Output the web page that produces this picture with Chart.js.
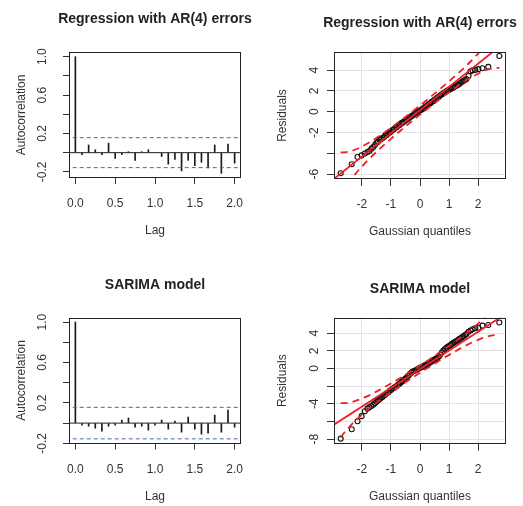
<!DOCTYPE html>
<html>
<head>
<meta charset="utf-8">
<title>Residual diagnostics</title>
<script src="https://cdn.jsdelivr.net/npm/chart.js@4.4.1/dist/chart.umd.min.js"></script>
<style>
  html, body { margin: 0; padding: 0; background: #fff; }
  #wrap { position: relative; width: 523px; height: 506px; }
  #wrap canvas { position: absolute; }
</style>
</head>
<body>
<div id="wrap">
  <canvas id="acfReg" width="262" height="253" style="left:0;top:0"></canvas>
  <canvas id="qqReg" width="261" height="253" style="left:262px;top:0"></canvas>
  <canvas id="acfSar" width="262" height="253" style="left:0;top:253px"></canvas>
  <canvas id="qqSar" width="261" height="253" style="left:262px;top:253px"></canvas>
</div>
<script>
// ---- data ----
const lagMonths = [0, 1, 2, 3, 4, 5, 6, 7, 8, 9, 10, 11, 12, 13, 14, 15, 16, 17, 18, 19, 20, 21, 22, 23, 24];
const acfRegression = [1.00, -0.02, 0.08, 0.03, -0.02, 0.10, -0.06, -0.02, 0.01, -0.08, 0.01, 0.03, 0.00,
  -0.04, -0.12, -0.07, -0.19, -0.08, -0.135, -0.10, -0.16, 0.08, -0.215, 0.09, -0.11];
const acfSarima = [1.00, -0.02, -0.03, -0.05, -0.08, -0.03, -0.02, 0.03, 0.05, -0.04, -0.03, -0.07, -0.02,
  0.03, -0.06, 0.02, -0.09, 0.06, -0.06, -0.11, -0.10, 0.08, -0.09, 0.13, -0.04];
const acfBound = 0.156; // 95% band

// Gaussian quantiles (same n for both models)
const gaussQ = [-2.73, -2.35, -2.15, -2.01, -1.90, -1.81, -1.74, -1.67, -1.61, -1.55,
  -1.50, -1.45, -1.40, -1.35, -1.30, -1.25, -1.20, -1.15, -1.10, -1.05,
  -1.00, -0.95, -0.90, -0.85, -0.80, -0.75, -0.70, -0.65, -0.60, -0.55,
  -0.50, -0.45, -0.40, -0.35, -0.30, -0.25, -0.20, -0.15, -0.10, -0.05,
  0.00, 0.05, 0.10, 0.15, 0.20, 0.25, 0.30, 0.35, 0.40, 0.45,
  0.50, 0.55, 0.60, 0.65, 0.70, 0.75, 0.80, 0.85, 0.90, 0.95,
  1.00, 1.05, 1.10, 1.15, 1.20, 1.25, 1.30, 1.35, 1.40, 1.45,
  1.50, 1.55, 1.60,
  1.67, 1.74, 1.81, 1.90, 2.01, 2.15, 2.35, 2.73];
const residRegression = [-5.92, -5.05, -4.35, -4.20, -4.02, -3.88, -3.78, -3.55, -3.40, -3.20,
  -2.98, -2.90, -2.70, -2.66, -2.52, -2.47, -2.30, -2.25, -2.10, -2.02,
  -1.92, -1.76, -1.70, -1.55, -1.48, -1.33, -1.28, -1.12, -1.05, -0.95,
  -0.82, -0.76, -0.62, -0.55, -0.44, -0.36, -0.22, -0.16, -0.02, 0.02,
  0.12, 0.20, 0.30, 0.38, 0.52, 0.60, 0.74, 0.80, 0.95, 1.02,
  1.15, 1.22, 1.36, 1.45, 1.58, 1.66, 1.78, 1.85, 1.96, 2.04,
  2.12, 2.18, 2.27, 2.33, 2.42, 2.50, 2.58, 2.66, 2.78, 2.88,
  2.98, 3.06, 3.15,
  3.45, 3.90, 3.98, 4.03, 4.10, 4.18, 4.32, 5.37];
const residSarima = [-7.95, -6.88, -5.98, -5.40, -4.85, -4.55, -4.38, -4.25, -4.10, -3.95,
  -3.78, -3.62, -3.52, -3.35, -3.25, -3.08, -2.98, -2.80, -2.72, -2.55,
  -2.45, -2.30, -2.22, -2.08, -1.98, -1.82, -1.72, -1.55, -1.45, -1.28,
  -1.15, -1.00, -0.82, -0.62, -0.48, -0.35, -0.28, -0.20, -0.12, 0.00,
  0.08, 0.15, 0.22, 0.32, 0.40, 0.50, 0.58, 0.68, 0.80, 0.92,
  1.02, 1.12, 1.22, 1.35, 1.58, 1.80, 2.00, 2.18, 2.32, 2.45,
  2.55, 2.66, 2.78, 2.90, 3.00, 3.10, 3.20, 3.32, 3.42, 3.55,
  3.65, 3.78, 3.90,
  4.15, 4.30, 4.45, 4.56, 4.62, 4.85, 4.93, 5.20];

// reference lines (solid red) and pointwise envelope (dashed red)
const fitQ = [-2.98, 2.98];
const fitRegression = [-6.50, 6.82];
const fitSarima = [-6.40, 6.24];
const envQ = [-2.73, -2.6, -2.4, -2.2, -2.0, -1.75, -1.5, -1.0, -0.5, 0, 0.5, 1.0, 1.5, 1.75, 2.0, 2.2, 2.4, 2.6, 2.73];
const envRegUpper = [-3.90, -3.90, -3.80, -3.61, -3.34, -2.96, -2.52, -1.55, -0.50, 0.60, 1.74, 2.93, 4.18, 4.86, 5.60, 6.23, 6.92, 7.72, 8.30];
const envRegLower = [-7.98, -7.40, -6.60, -5.91, -5.28, -4.54, -3.86, -2.61, -1.42, -0.28, 0.82, 1.87, 2.84, 3.28, 3.66, 3.93, 4.12, 4.22, 4.22];
const envSarUpper = [-3.93, -3.93, -3.84, -3.65, -3.40, -3.04, -2.62, -1.70, -0.71, 0.33, 1.41, 2.54, 3.74, 4.38, 5.08, 5.67, 6.34, 7.09, 7.65];
const envSarLower = [-7.81, -7.25, -6.50, -5.83, -5.24, -4.54, -3.90, -2.70, -1.57, -0.49, 0.55, 1.54, 2.46, 2.88, 3.24, 3.49, 3.68, 3.77, 3.77];

// ticks
const lagTicks = [0, 0.5, 1, 1.5, 2];
const acfTicks = [-0.2, 0, 0.2, 0.4, 0.6, 0.8, 1.0];
const acfLabels = [-0.2, 0.2, 0.6, 1.0];
const qTicks = [-2, -1, 0, 1, 2];
const regTicks = [-6, -4, -2, 0, 2, 4];
const regLabels = [-6, -2, 0, 2, 4];
const sarTicks = [-8, -6, -4, -2, 0, 2, 4];
const sarLabels = [-8, -4, 0, 2, 4];

const FONT = '"Liberation Sans", Arial, Helvetica, sans-serif';
const pts = (xs, ys) => xs.map((x, i) => ({ x: x, y: ys[i] }));

// box, titles and rotated R-style labels
function rFrame(o) {
  return {
    id: 'rFrame',
    afterDraw(chart) {
      const { ctx, chartArea: a, scales } = chart;
      const cx = (a.left + a.right) / 2;
      const cy = (a.top + a.bottom) / 2;
      ctx.save();
      ctx.strokeStyle = '#222';
      ctx.lineWidth = 1;
      ctx.strokeRect(Math.round(a.left) + 0.5, Math.round(a.top) + 0.5,
        Math.round(a.right - a.left) - 1, Math.round(a.bottom - a.top) - 1);

      ctx.textBaseline = 'alphabetic';
      ctx.textAlign = 'center';
      ctx.fillStyle = '#222';
      ctx.font = 'bold 14px ' + FONT;
      ctx.fillText(o.title, cx, a.top - o.titleGap);

      ctx.fillStyle = '#333';
      ctx.font = '12px ' + FONT;
      o.xLabels.forEach(v => {
        ctx.fillText(v.toFixed(o.xDec), scales.x.getPixelForValue(v), a.bottom + 29);
      });
      ctx.fillText(o.xTitle, cx, a.bottom + 56);

      o.yLabels.forEach(v => {
        ctx.save();
        ctx.translate(a.left - o.yLabGap, scales.y.getPixelForValue(v));
        ctx.rotate(-Math.PI / 2);
        ctx.fillText(v.toFixed(o.yDec), 0, 0);
        ctx.restore();
      });
      ctx.translate(a.left - o.yTitleGap, cy);
      ctx.rotate(-Math.PI / 2);
      ctx.fillText(o.yTitle, 0, 0);
      ctx.restore();
    }
  };
}

function axis(min, max, ticks, inner, tickLen) {
  return {
    type: 'linear',
    min: min,
    max: max,
    offset: false,
    afterBuildTicks: s => { s.ticks = ticks.map(v => ({ value: v })); },
    afterFit: s => { if (s.isHorizontal()) s.height = 0; else s.width = 0; },
    ticks: { display: false },
    border: { display: false },
    grid: { offset: false, drawOnChartArea: inner, color: '#e2e2e2', tickColor: '#333', tickLength: tickLen, lineWidth: 1 }
  };
}

function acfChart(id, values, yMin, yMax, pad, title) {
  const lags = lagMonths.map(m => m / 12);
  new Chart(document.getElementById(id), {
    type: 'bar',
    data: {
      datasets: [
        { type: 'line', data: [{ x: -1, y: acfBound }, { x: 3, y: acfBound }], borderColor: '#4462d2', borderWidth: 1, borderDash: [4, 3], pointRadius: 0 },
        { type: 'line', data: [{ x: -1, y: -acfBound }, { x: 3, y: -acfBound }], borderColor: '#4462d2', borderWidth: 1, borderDash: [4, 3], pointRadius: 0 },
        { type: 'line', data: [{ x: -1, y: 0 }, { x: 3, y: 0 }], borderColor: '#222', borderWidth: 1, pointRadius: 0 },
        { data: pts(lags, values), backgroundColor: '#1a1a1a', borderWidth: 0, barThickness: 1 }
      ]
    },
    options: {
      responsive: false,
      animation: false,
      events: [],
      layout: { padding: pad },
      plugins: { legend: { display: false }, tooltip: { enabled: false } },
      scales: {
        x: axis(-0.08, 2.08, lagTicks, false, 6),
        y: axis(yMin, yMax, acfTicks, false, 6)
      }
    },
    plugins: [rFrame({ title: title, titleGap: 29, xLabels: lagTicks, xDec: 1, xTitle: 'Lag',
      yLabels: acfLabels, yDec: 1, yLabGap: 23, yTitle: 'Autocorrelation', yTitleGap: 44 })]
  });
}

function qqChart(id, resid, fit, up, lo, yMin, yMax, yTicks, yLabels, pad, title) {
  new Chart(document.getElementById(id), {
    type: 'scatter',
    data: {
      datasets: [
        { type: 'line', data: pts(fitQ, fit), borderColor: '#f01e26', borderWidth: 1.8, pointRadius: 0 },
        { type: 'line', data: pts(envQ, up), borderColor: '#f01e26', borderWidth: 1.8, borderDash: [7, 5], pointRadius: 0, cubicInterpolationMode: 'monotone' },
        { type: 'line', data: pts(envQ, lo), borderColor: '#f01e26', borderWidth: 1.8, borderDash: [7, 5], pointRadius: 0, cubicInterpolationMode: 'monotone' },
        { data: pts(gaussQ, resid), pointStyle: 'circle', pointRadius: 2.5, borderColor: '#111', backgroundColor: 'rgba(0,0,0,0)', borderWidth: 1.1 }
      ]
    },
    options: {
      responsive: false,
      animation: false,
      events: [],
      layout: { padding: pad },
      plugins: { legend: { display: false }, tooltip: { enabled: false } },
      scales: {
        x: axis(-2.96, 2.96, qTicks, true, 7),
        y: axis(yMin, yMax, yTicks, true, 7)
      }
    },
    plugins: [rFrame({ title: title, titleGap: 25, xLabels: qTicks, xDec: 0, xTitle: 'Gaussian quantiles',
      yLabels: yLabels, yDec: 0, yLabGap: 16, yTitle: 'Residuals', yTitleGap: 48 })]
  });
}

acfChart('acfReg', acfRegression, -0.264, 1.049, { left: 69, right: 21, top: 52, bottom: 75 }, 'Regression with AR(4) errors');
acfChart('acfSar', acfSarima, -0.202, 1.046, { left: 69, right: 21, top: 64.5, bottom: 62.5 }, 'SARIMA model');
qqChart('qqReg', residRegression, fitRegression, envRegUpper, envRegLower, -6.47, 5.75, regTicks, regLabels,
  { left: 72, right: 17, top: 52, bottom: 74 }, 'Regression with AR(4) errors');
qqChart('qqSar', residSarima, fitSarima, envSarUpper, envSarLower, -8.52, 5.75, sarTicks, sarLabels,
  { left: 72, right: 17, top: 64.7, bottom: 62.3 }, 'SARIMA model');
</script>
</body>
</html>
